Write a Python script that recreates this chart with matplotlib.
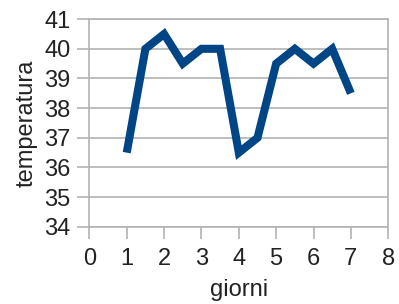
import matplotlib.pyplot as plt

giorni = [1, 1.5, 2, 2.5, 3, 3.5, 4, 4.5, 5, 5.5, 6, 6.5, 7]
temperatura = [36.5, 40, 40.5, 39.5, 40, 40, 36.5, 37, 39.5, 40, 39.5, 40, 38.5]
xticks = list(range(0, 9))
yticks = list(range(34, 42))

plt.rcParams['font.family'] = ['Liberation Sans', 'DejaVu Sans']

fig = plt.figure(figsize=(3.99, 3.04), dpi=100)
ax = fig.add_axes([0.224, 0.254, 0.749, 0.683])

ax.plot(giorni, temperatura, color='#004586', lw=5.8, solid_joinstyle='miter',
        solid_capstyle='butt', zorder=3)

ax.set_xlim(0, 8)
ax.set_ylim(34, 41)
ax.set_xticks(xticks)
ax.set_yticks(yticks)
ax.grid(axis='y', color='#b3b3b3', lw=1.2)
for s in ax.spines.values():
    s.set_color('#b3b3b3')
    s.set_linewidth(1.2)
ax.tick_params(colors='#b3b3b3', labelcolor='#222222', labelsize=17,
               length=8.5, width=1.2, pad=5)
ax.tick_params(axis='x', pad=7)

ax.set_xlabel('giorni', fontsize=17, color='#222222', labelpad=6)
ax.set_ylabel('temperatura', fontsize=17, color='#222222', labelpad=5)

fig.savefig('out.png', dpi=100)
